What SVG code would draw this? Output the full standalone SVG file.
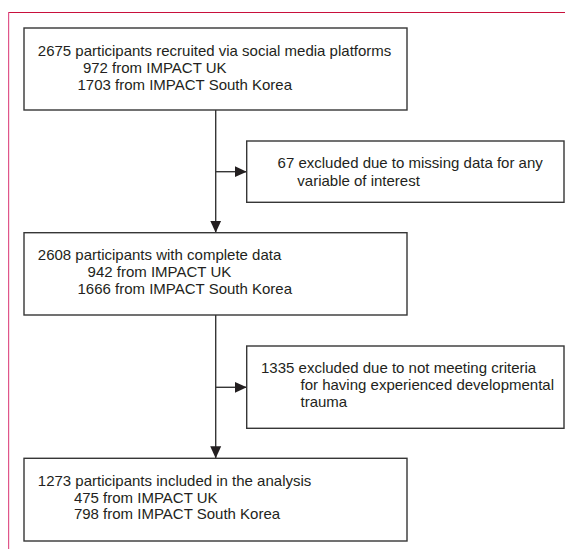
<svg xmlns="http://www.w3.org/2000/svg" width="565" height="549" viewBox="0 0 565 549">
<style>
.box{fill:#fff;stroke:#363636;stroke-width:1.4}
.t{font-family:"Liberation Sans",Arial,sans-serif;font-size:15px;fill:#231f20}
.ln{stroke:#363636;stroke-width:1.4;fill:none}
</style>
<defs>
<marker id="ah" viewBox="0 0 12 12" refX="12" refY="6" markerWidth="12" markerHeight="12" markerUnits="userSpaceOnUse" orient="auto">
<path d="M0,0.5 L12,6 L0,11.5 Z" fill="#231f20"/>
</marker>
</defs>
<rect width="565" height="549" fill="#fff"/>
<g id="frame">
<line x1="8" y1="12.5" x2="565" y2="12.5" stroke="#c8103c" stroke-width="1.2"/>
<line x1="8.6" y1="12" x2="8.6" y2="549" stroke="#e0568a" stroke-width="1.2"/>
</g>
<g id="connectors">
<line class="ln" x1="215.7" y1="110" x2="215.7" y2="232.7" marker-end="url(#ah)"/>
<line class="ln" x1="215.7" y1="171.7" x2="246.7" y2="171.7" marker-end="url(#ah)"/>
<line class="ln" x1="215.7" y1="315" x2="215.7" y2="458.3" marker-end="url(#ah)"/>
<line class="ln" x1="215.7" y1="387.3" x2="246.7" y2="387.3" marker-end="url(#ah)"/>
</g>
<g id="recruited">
<rect class="box" x="24" y="28" width="383" height="82"/>
<text class="t" x="37.8" y="56">2675 participants recruited via social media platforms</text>
<text class="t" x="82.9" y="73">972 from IMPACT UK</text>
<text class="t" x="77.5" y="90">1703 from IMPACT South Korea</text>
</g>
<g id="excluded1">
<rect class="box" x="246.7" y="141" width="317.3" height="61.3"/>
<text class="t" x="277.6" y="168">67 excluded due to missing data for any</text>
<text class="t" x="297.3" y="185.5">variable of interest</text>
</g>
<g id="complete">
<rect class="box" x="24" y="232.7" width="383" height="82.3"/>
<text class="t" x="37.8" y="260">2608 participants with complete data</text>
<text class="t" x="87.6" y="277">942 from IMPACT UK</text>
<text class="t" x="77.5" y="294">1666 from IMPACT South Korea</text>
</g>
<g id="excluded2">
<rect class="box" x="246.7" y="346" width="317.3" height="82.3"/>
<text class="t" x="261" y="373">1335 excluded due to not meeting criteria</text>
<text class="t" x="300.5" y="390">for having experienced developmental</text>
<text class="t" x="300.5" y="407">trauma</text>
</g>
<g id="included">
<rect class="box" x="24" y="458.3" width="383" height="82.7"/>
<text class="t" x="37.8" y="486">1273 participants included in the analysis</text>
<text class="t" x="73.9" y="502.5">475 from IMPACT UK</text>
<text class="t" x="73.9" y="519">798 from IMPACT South Korea</text>
</g>
</svg>
